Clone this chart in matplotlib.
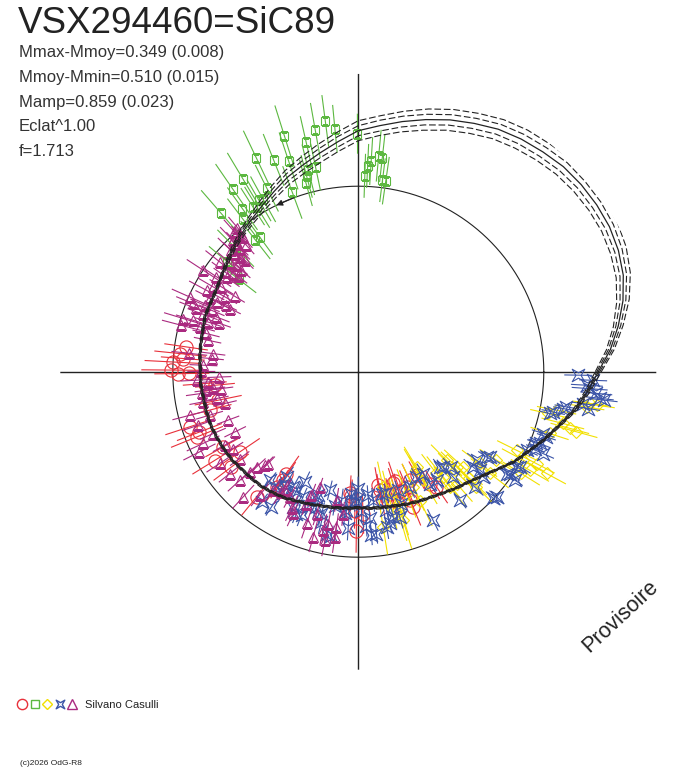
import numpy as np
import matplotlib
matplotlib.use("Agg")
import matplotlib.pyplot as plt
from matplotlib.lines import Line2D
from matplotlib.path import Path
from matplotlib.legend_handler import HandlerTuple

plt.rcParams['font.family'] = ['Liberation Sans', 'DejaVu Sans']

W, H = 688, 768

# ---- observations: phase angle (deg, ccw from east), radius, half error ----
green_phase = [97.5, 95.5, 100.1, 107.4, 102.8, 115.5, 111.8, 108.3, 101.8, 103.9, 104.8, 105.5,
               120.9, 116.5, 124.5, 110.2, 118.9, 120.1, 122.6, 121.6, 125.4, 130.9, 127.1, 126.2,
               128.0, 90.2, 86.5, 87.4, 84.6, 83.6, 88.1, 82.8, 81.8, 140.0, 142.3, 134.8]
green_rad = [253, 244, 245, 247, 236, 237, 228, 222, 209, 208, 202, 196,
             225, 205, 222, 191, 197, 198, 196, 193, 200, 210, 191, 167,
             167, 238, 211, 206, 217, 215, 196, 193, 193, 171, 151, 174]
green_err = [26, 24, 28, 32, 26, 30, 28, 30, 24, 26, 22, 24,
             30, 26, 30, 28, 26, 24, 22, 24, 26, 30, 26, 22,
             24, 20, 24, 22, 26, 24, 22, 22, 24, 24, 22, 26]

red_phase = [171.8, 174.2, 177.0, 175.7, 179.5, 180.6, 180.6, 184.4, 185.4, 191.5, 194.5, 198.1,
             200.8, 202.0, 211.7, 216.9, 214.1, 209.1, 234.8, 230.9, 234.6, 235.3, 266.0, 279.9,
             288.6, 280.3, 269.3, 292.7, 299.4, 302.6, 304.2, 285.2, 291.8, 271.9, 268.6, 287.3,
             289.3, 284.5, 295.4, 292.1, 266.8, 280.4]
red_rad = [174, 179, 186, 176, 187, 180, 169, 154, 144, 143, 153, 177,
           170, 174, 169, 159, 143, 155, 125, 161, 141, 132, 122, 115,
           115, 120, 159, 125, 119, 133, 139, 133, 138, 142, 139, 117,
           126, 126, 120, 146, 124, 129]
red_err = [22, 26, 28, 22, 30, 24, 20, 22, 20, 24, 22, 26,
           24, 28, 26, 22, 24, 20, 22, 24, 20, 22, 18, 18,
           20, 16, 22, 18, 16, 18, 20, 18, 16, 20, 18, 16,
           18, 16, 18, 20, 16, 18]

yellow_phase = [314.9, 314.4, 317.7, 322.9, 322.3, 327.4, 333.6, 331.8, 330.1, 332.7, 331.6, 347.6,
                349.0, 345.8, 345.0, 344.6, 351.2, 352.0, 328.0, 316.2, 282.1, 283.8, 286.0, 291.6,
                300.6, 300.8, 307.5, 308.5, 311.3, 315.7, 342.1, 352.2, 279.1, 286.8, 301.4, 308.9,
                315.9, 295.4, 295.6, 287.1]
yellow_rad = [125, 138, 142, 152, 166, 164, 177, 187, 198, 201, 214, 194,
              202, 211, 219, 226, 231, 241, 192, 154, 118, 132, 144, 131,
              114, 126, 128, 147, 149, 165, 201, 234, 157, 155, 112, 135,
              137, 128, 143, 141]
yellow_err = [22, 24, 26, 22, 24, 20, 22, 24, 22, 20, 22, 18,
              20, 22, 20, 22, 18, 18, 22, 24, 26, 30, 32, 26,
              24, 28, 24, 26, 24, 22, 20, 18, 28, 30, 24, 26,
              22, 26, 28, 30]

blue_phase = [230.8, 234.1, 237.3, 235.7, 242.5, 244.1, 249.6, 255.5, 256.5, 262.6, 265.1, 266.8,
              269.2, 271.3, 273.0, 276.6, 280.8, 281.5, 283.5, 288.1, 288.6, 294.1, 298.9, 302.5,
              302.6, 296.7, 310.6, 314.4, 308.3, 320.3, 319.9, 327.1, 317.8, 326.1, 329.0, 335.0,
              338.1, 341.5, 347.7, 350.4, 351.9, 244.3, 251.5, 258.9, 276.4, 280.3, 359.1, 356.6,
              357.9, 354.8, 353.7, 355.8, 348.3, 349.8, 350.9, 340.9, 338.4, 336.5, 336.1, 326.4,
              321.0, 311.7, 312.0, 325.5, 329.5, 325.3, 353.4, 238.3, 240.5, 246.2, 252.8, 246.5,
              237.1, 252.0, 260.0, 256.2, 268.5, 269.9, 274.5, 274.5, 274.6, 266.3, 260.7, 248.4,
              233.4, 264.6, 283.0, 285.9, 305.8, 315.3, 316.8, 323.2, 281.7]
blue_rad = [140, 142, 161, 127, 134, 123, 144, 147, 122, 130, 139, 122,
            129, 139, 155, 129, 124, 141, 149, 139, 125, 126, 120, 121,
            133, 166, 125, 133, 164, 149, 163, 157, 187, 183, 185, 186,
            192, 195, 196, 211, 227, 150, 132, 165, 163, 158, 220, 229,
            235, 239, 243, 232, 199, 208, 233, 199, 195, 193, 202, 154,
            156, 128, 142, 180, 188, 190, 247, 143, 132, 137, 142, 155,
            135, 130, 136, 155, 130, 117, 124, 147, 164, 157, 166, 154,
            162, 142, 125, 151, 134, 164, 185, 148, 155]
blue_err = [10, 12, 10, 12, 10, 12, 10, 12, 10, 12, 10, 12,
            10, 12, 10, 12, 10, 12, 10, 12, 10, 12, 10, 12,
            10, 12, 10, 12, 10, 12, 10, 12, 10, 12, 10, 12,
            10, 12, 10, 12, 12, 12, 10, 12, 10, 12, 14, 16,
            14, 16, 14, 18, 12, 10, 12, 10, 12, 10, 12, 10,
            12, 10, 12, 10, 12, 10, 14, 10, 12, 10, 12, 10,
            10, 12, 10, 12, 10, 12, 10, 12, 10, 12, 10, 12,
            10, 12, 10, 12, 10, 12, 10, 12, 10]

purple_phase = [130.0, 131.5, 131.1, 133.7, 130.5, 133.4, 131.5, 134.0, 136.4, 136.3, 135.9, 135.5,
                141.6, 139.7, 138.7, 139.0, 146.8, 143.2, 141.9, 146.2, 144.4, 141.5, 149.7, 148.2,
                151.8, 148.6, 150.7, 153.5, 156.1, 153.8, 156.6, 153.2, 158.7, 157.3, 153.8, 159.7,
                158.9, 163.1, 162.7, 161.7, 160.8, 164.2, 165.3, 157.6, 165.9, 173.8, 172.9, 177.6,
                182.2, 183.0, 183.9, 186.6, 187.9, 190.7, 191.0, 193.4, 194.5, 196.3, 200.4, 198.5,
                206.0, 203.1, 204.8, 208.8, 211.5, 206.8, 216.2, 213.5, 218.4, 222.5, 222.7, 225.5,
                227.4, 231.4, 234.3, 241.3, 245.3, 251.2, 251.5, 260.4, 262.0, 257.5, 253.6, 263.9,
                254.7, 223.1, 238.2, 249.2, 258.8, 261.9, 258.8, 248.5, 168.2, 179.9, 187.0, 187.0,
                174.9, 225.0, 237.4, 244.0]
purple_rad = [188, 187, 181, 182, 177, 176, 169, 170, 176, 171, 165, 159,
              177, 168, 161, 155, 185, 167, 159, 171, 162, 154, 168, 161,
              172, 145, 153, 166, 184, 158, 167, 148, 174, 159, 143, 166,
              152, 183, 173, 158, 147, 165, 183, 179, 157, 170, 146, 155,
              139, 162, 151, 146, 158, 144, 158, 137, 174, 155, 139, 169,
              137, 158, 171, 152, 147, 178, 147, 166, 164, 161, 148, 129,
              170, 158, 146, 143, 156, 160, 122, 130, 157, 162, 148, 143,
              171, 139, 139, 132, 155, 167, 172, 142, 154, 157, 153, 138,
              147, 132, 143, 152]
purple_err = [14, 16, 12, 18, 14, 16, 12, 14, 18, 16, 14, 12,
              18, 16, 14, 12, 20, 16, 14, 18, 16, 12, 18, 14,
              20, 12, 14, 16, 20, 14, 16, 12, 18, 14, 12, 16,
              14, 20, 18, 14, 12, 16, 20, 18, 14, 18, 12, 14,
              12, 16, 14, 12, 16, 12, 14, 12, 18, 14, 12, 16,
              12, 14, 18, 14, 12, 18, 12, 16, 14, 16, 12, 10,
              16, 14, 12, 12, 14, 16, 10, 12, 14, 16, 12, 12,
              16, 12, 12, 12, 14, 16, 16, 12, 14, 14, 12, 12,
              12, 12, 14, 14]

# ---- fitted curve and its uncertainty envelopes ----
fit_phase = list(range(0, 365, 5))
fit_rad = [240, 253, 264, 274, 282, 287, 290, 291, 291, 290, 287, 284,
           280, 274, 268, 261, 254, 247, 241, 231, 222, 214, 207, 199,
           192, 186, 181, 176, 171, 167, 164, 163, 163, 161, 160, 159,
           158, 158, 157, 157, 157, 156, 155, 154, 152, 151, 150, 148,
           146, 143, 141, 139, 138, 137, 136, 137, 138, 139, 141, 143,
           145, 148, 152, 156, 162, 170, 180, 188, 198, 208, 220, 230, 240]
band_inner = [1.5, 2, 2.5, 3, 3.5, 4, 4.5, 5, 5, 5.5, 5.5, 5.5,
              5.5, 5.5, 5.5, 5.5, 5.5, 5.5, 5, 5, 4.5, 4, 3.5, 3,
              2.5, 2, 1.5, 1.2, 1, 0.6, 0.6, 0.6, 0.6, 0.6, 0.6, 0.6,
              0.6, 0.6, 0.6, 0.6, 0.6, 0.6, 0.6, 0.6, 0.6, 0.6, 0.6, 0.6,
              0.6, 0.6, 0.6, 0.6, 0.6, 0.6, 0.6, 0.6, 0.6, 0.6, 0.6, 0.6,
              0.6, 0.6, 0.6, 0.6, 0.6, 0.6, 0.6, 0.6, 0.7, 0.8, 1, 1.2, 1.5]
band_outer = [3, 4, 5, 6.5, 7.5, 8.5, 9, 9.5, 10, 10.5, 10.5, 11,
              11, 11, 11, 11, 10.5, 10, 10, 9.5, 9, 8, 7, 6,
              5, 4, 3, 2.2, 1.8, 1.2, 1.2, 1.2, 1.2, 1.2, 1.2, 1.2,
              1.2, 1.2, 1.2, 1.2, 1.2, 1.2, 1.2, 1.2, 1.2, 1.2, 1.2, 1.2,
              1.2, 1.2, 1.2, 1.2, 1.2, 1.2, 1.2, 1.2, 1.2, 1.2, 1.2, 1.2,
              1.2, 1.2, 1.2, 1.2, 1.2, 1.2, 1.2, 1.2, 1.3, 1.5, 2, 2.5, 3]

ref_radius = 185.5
r_max = 298
arrow_phase = 116.2

info_lines = ['Mmax-Mmoy=0.349 (0.008)', 'Mmoy-Mmin=0.510 (0.015)',
              'Mamp=0.859 (0.023)', 'Eclat^1.00', 'f=1.713']

RED, GREEN, YELLOW, BLUE, PURPLE = '#e8303a', '#5cb840', '#f2e000', '#3c55a8', '#aa2a80'
INK = '#222222'

star = Path([(1, 1), (0, 0.42), (-1, 1), (-0.42, 0), (-1, -1), (0, -0.42), (1, -1), (0.42, 0), (1, 1)],
            [Path.MOVETO] + [Path.LINETO] * 7 + [Path.CLOSEPOLY])

fig = plt.figure(figsize=(W / 100, H / 100), dpi=100)
# centre kept slightly off the pixel edge so the axis cross snaps to one column/row
cx, cy = 358.3 / W, 1 - 371.7 / H
hw, hh = r_max / W, r_max / H
ax = fig.add_axes([cx - hw, cy - hh, 2 * hw, 2 * hh], projection='polar')
ax.set_ylim(0, r_max)
ax.set_xticks([])
ax.set_yticks([])
ax.grid(False)
ax.spines['polar'].set_visible(False)
ax.patch.set_visible(False)

# axis cross
for a in (0, 90, 180, 270):
    ax.plot([np.deg2rad(a)] * 2, [0, r_max], color=INK, lw=1.0)

# reference circle with direction arrow
t = np.linspace(0, 2 * np.pi, 721)
ax.plot(t, np.full_like(t, ref_radius), color=INK, lw=0.8)
ax.annotate('', xy=(np.deg2rad(arrow_phase), ref_radius),
            xytext=(np.deg2rad(arrow_phase - 6), ref_radius),
            arrowprops=dict(arrowstyle='-|>', color=INK, lw=0.8, mutation_scale=9,
                            shrinkA=0, shrinkB=0))


def draw_series(phase, rad, err, color, marker, ms):
    th = np.deg2rad(phase)
    rad = np.asarray(rad, float)
    err = np.asarray(err, float)
    ax.vlines(th, rad - err, rad + err, colors=color, lw=0.8)
    ax.plot(th, rad, ls='none', marker=marker, ms=ms, mfc='none', mec=color, mew=0.8)


draw_series(red_phase, red_rad, red_err, RED, 'o', 9.5)
draw_series(green_phase, green_rad, green_err, GREEN, 's', 6.0)
draw_series(yellow_phase, yellow_rad, yellow_err, YELLOW, 'D', 6.6)
draw_series(blue_phase, blue_rad, blue_err, BLUE, star, 9.0)
draw_series(purple_phase, purple_rad, purple_err, PURPLE, '^', 7.5)

# fitted curve + dashed envelopes
ft = np.deg2rad(fit_phase)
fr = np.asarray(fit_rad, float)
bi = np.asarray(band_inner)
bo = np.asarray(band_outer)
for off in (bo, bi, -bi, -bo):
    ax.plot(ft, fr + off, color=INK, lw=0.8, ls=(0, (6, 2.5)))
ax.plot(ft, fr, color=INK, lw=0.9)

# texts
fig.text(18 / W, 1 - 33 / H, 'VSX294460=SiC89', fontsize=26.5, color=INK, va='baseline')
for i, line in enumerate(info_lines):
    fig.text(19 / W, 1 - (57 + 24.8 * i) / H, line, fontsize=12, color='#333333', va='baseline')
fig.text(589 / W, 1 - 653 / H, 'Provisoire', fontsize=15.5, color=INK, rotation=43,
         rotation_mode='anchor', ha='left', va='baseline')
fig.text(20 / W, 1 - 765 / H, '(c)2026 OdG-R8', fontsize=6, color=INK, va='baseline')

# legend
handles = (
    Line2D([], [], ls='none', marker='o', ms=7.4, mfc='none', mec=RED, mew=1.0),
    Line2D([], [], ls='none', marker='s', ms=5.2, mfc='none', mec=GREEN, mew=1.0),
    Line2D([], [], ls='none', marker='D', ms=5.6, mfc='none', mec=YELLOW, mew=1.0),
    Line2D([], [], ls='none', marker=star, ms=6.2, mfc='none', mec=BLUE, mew=1.0),
    Line2D([], [], ls='none', marker='^', ms=6.8, mfc='none', mec=PURPLE, mew=1.0),
)
fig.legend([handles], ['Silvano Casulli'], handler_map={tuple: HandlerTuple(ndivide=None, pad=0.225)},
           loc='center left', bbox_to_anchor=(17 / W, 1 - 705 / H), frameon=False,
           borderpad=0, borderaxespad=0, handlelength=5.4, handletextpad=0.72,
           prop={'size': 8}, labelcolor=INK)

fig.savefig('out.png', dpi=100)
